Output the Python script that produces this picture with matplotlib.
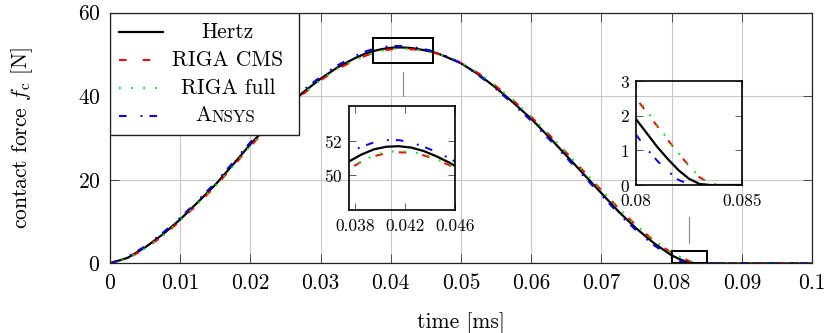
import matplotlib
matplotlib.use("Agg")
import matplotlib.pyplot as plt
from matplotlib.patches import Rectangle
from matplotlib.lines import Line2D

plt.rcParams['font.family'] = ['cmr10', 'DejaVu Serif']
plt.rcParams['mathtext.fontset'] = 'cm'
plt.rcParams['axes.formatter.use_mathtext'] = True
plt.rcParams['lines.scale_dashes'] = False

# ---------------- data ----------------
time_ms = [0, .0025, .005, .0075, .01, .0125, .015, .0175, .02, .0225,
           .025, .0275, .03, .0325, .035, .0365, .0375, .0385, .0395, .0405,
           .0415, .0425, .0435, .0445, .0455, .0465, .0475, .05, .0525, .055,
           .0575, .06, .0625, .065, .0675, .07, .0725, .075, .0775, .08,
           .0805, .081, .0815, .082, .0825, .083, .0835, .084, .09, .1]

hertz = [0, 1.3, 3.8, 6.9, 10.5, 14.6, 18.8, 23.6, 28.5, 33.0,
         37.1, 40.9, 44.2, 47.0, 49.2, 50.3, 50.8, 51.2, 51.5, 51.65,
         51.68, 51.6, 51.4, 51.1, 50.75, 50.35, 49.7, 47.9, 45.2, 42.0,
         38.4, 34.6, 30.3, 25.8, 21.3, 16.8, 12.3, 8.3, 4.8, 1.9,
         1.5, 1.1, 0.75, 0.43, 0.18, 0.03, 0, 0, 0, 0]

riga_cms = [0, 1.1, 3.5, 6.5, 10.1, 14.2, 18.4, 23.1, 28.0, 32.5,
            36.7, 40.5, 43.8, 46.6, 48.7, 49.75, 50.35, 50.8, 51.1, 51.28,
            51.33, 51.3, 51.15, 50.9, 50.6, 50.25, 49.7, 48.0, 45.5, 42.4,
            38.9, 35.1, 30.9, 26.5, 22.0, 17.5, 13.1, 9.0, 5.4, 2.5,
            2.1, 1.7, 1.3, 0.92, 0.55, 0.22, 0.05, 0, 0, 0]

riga_full = [0, 1.2, 3.6, 6.6, 10.2, 14.3, 18.5, 23.2, 28.1, 32.6,
             36.8, 40.6, 43.9, 46.7, 48.7, 49.7, 50.3, 50.8, 51.15, 51.35,
             51.4, 51.35, 51.2, 50.95, 50.62, 50.25, 49.75, 48.05, 45.55, 42.45,
             38.95, 35.15, 30.95, 26.55, 22.05, 17.55, 13.15, 9.05, 5.45, 2.55,
             2.15, 1.72, 1.32, 0.93, 0.56, 0.22, 0.05, 0, 0, 0]

ansys = [0, 1.5, 4.1, 7.3, 10.9, 15.0, 19.3, 24.1, 29.0, 33.5,
         37.6, 41.4, 44.7, 47.5, 49.7, 50.8, 51.3, 51.65, 51.9, 52.03,
         52.03, 51.9, 51.65, 51.35, 51.0, 50.6, 49.9, 47.9, 45.0, 41.7,
         38.0, 34.1, 29.8, 25.3, 20.8, 16.3, 11.8, 7.8, 4.3, 1.45,
         1.05, 0.7, 0.4, 0.15, 0.02, 0, 0, 0, 0, 0]

series_labels = ['Hertz', 'RIGA CMS', 'RIGA full', 'Ansys']
x_ticks = [0, 0.01, 0.02, 0.03, 0.04, 0.05, 0.06, 0.07, 0.08, 0.09, 0.1]
x_ticklabels = ['0', '0.01', '0.02', '0.03', '0.04', '0.05', '0.06', '0.07', '0.08', '0.09', '0.1']
y_ticks = [0, 20, 40, 60]

zoom1_x = [0.0375, 0.046]
zoom1_y = [48, 54]
zoom1_xticks = [0.038, 0.042, 0.046]
zoom1_yticks = [50, 52]
zoom2_x = [0.08, 0.085]
zoom2_y = [0, 3]
zoom2_xticks = [0.08, 0.085]
zoom2_yticks = [0, 1, 2, 3]

# ---------------- styles ----------------
styles = [
    dict(color='black', lw=1.6, linestyle='-'),
    dict(color='#ff0000', lw=1.4, linestyle=(0, (5.5, 11.5))),
    dict(color='#00ee00', lw=1.5, linestyle=(0, (1.3, 7.4))),
    dict(color='#0000ff', lw=1.4, linestyle=(0, (5.5, 10.0, 1.4, 5.0))),
]
data = [hertz, riga_cms, riga_full, ansys]

FS = 15.5
FS_IN = 12.5
GRID = '#c8c8c8'

fig = plt.figure(figsize=(8.26, 3.33), dpi=100)
ax = fig.add_axes([110 / 826, 1 - 263.3 / 333, 702 / 826, 250.6 / 333])

for y, st in zip(data, styles):
    ax.plot(time_ms, y, **st)

ax.set_xlim(0, 0.1)
ax.set_ylim(0, 60)
ax.set_xticks(x_ticks)
ax.set_xticklabels(x_ticklabels)
ax.set_yticks(y_ticks)
ax.tick_params(direction='in', top=True, right=True, length=6.5, width=0.6,
               labelsize=FS, pad=7, color='#333333')
ax.grid(True, color=GRID, lw=0.8)
ax.set_axisbelow(True)
for s in ax.spines.values():
    s.set_linewidth(0.9)
    s.set_color('#222222')

ax.set_xlabel('time [ms]', fontsize=FS)
ax.xaxis.set_label_coords(0.5, -0.195)
ax.set_ylabel(r'contact force $f_\mathrm{c}$ [N]', fontsize=FS)
ax.yaxis.set_label_coords(-0.107, 0.5)

# zoom rectangles
for xr, yr in [(zoom1_x, zoom1_y), (zoom2_x, zoom2_y)]:
    ax.add_patch(Rectangle((xr[0], yr[0]), xr[1] - xr[0], yr[1] - yr[0],
                           fill=False, ec='black', lw=1.4, zorder=5))
# connector marks
ax.plot([0.04175, 0.04175], [40.0, 45.9], color='#888888', lw=0.8, zorder=4)
ax.plot([0.0825, 0.0825], [4.9, 11.2], color='#888888', lw=0.8, zorder=4)

# manual legend (centered texts like pgfplots)
ax.add_patch(Rectangle((0, 0.512), 0.269, 0.488, transform=ax.transAxes,
                       fc='white', ec='#222222', lw=1.0, zorder=10))
rows = [0.922, 0.810, 0.700, 0.589]
for lab, st, ry in zip(series_labels, styles, rows):
    ax.add_line(Line2D([0.0128, 0.0755], [ry, ry], transform=ax.transAxes,
                       zorder=11, **st))
    if lab == 'Ansys':
        ax.text(0.1446, ry, 'A', transform=ax.transAxes, ha='right',
                va='center', fontsize=FS, zorder=12)
        ax.text(0.1446, ry - 0.006, 'NSYS', transform=ax.transAxes, ha='left',
                va='center', fontsize=FS * 0.78, zorder=12)
    else:
        ax.text(0.168, ry, lab, transform=ax.transAxes, ha='center',
                va='center', fontsize=FS, zorder=12)


def make_inset(rect, xr, yr, xt, yt):
    ia = fig.add_axes(rect)
    ia.patch.set_alpha(0)
    for y, st in zip(data, styles):
        ia.plot(time_ms, y, **st)
    ia.set_xlim(*xr)
    ia.set_ylim(*yr)
    ia.set_xticks(xt)
    ia.set_xticklabels([('%g' % v) for v in xt])
    ia.set_yticks(yt)
    ia.tick_params(direction='in', top=True, right=True, length=5, width=0.6,
                   labelsize=FS_IN, color='#444444')
    ia.tick_params(axis='x', pad=6.5)
    ia.tick_params(axis='y', pad=4.5)
    for s in ia.spines.values():
        s.set_linewidth(1.2)
        s.set_color('black')
    return ia


make_inset([349 / 826, 1 - 210 / 333, 106 / 826, 104 / 333],
           zoom1_x, zoom1_y, zoom1_xticks, zoom1_yticks)
make_inset([636 / 826, 1 - 185 / 333, 106 / 826, 104 / 333],
           zoom2_x, zoom2_y, zoom2_xticks, zoom2_yticks)

fig.savefig('out.png', dpi=100)
